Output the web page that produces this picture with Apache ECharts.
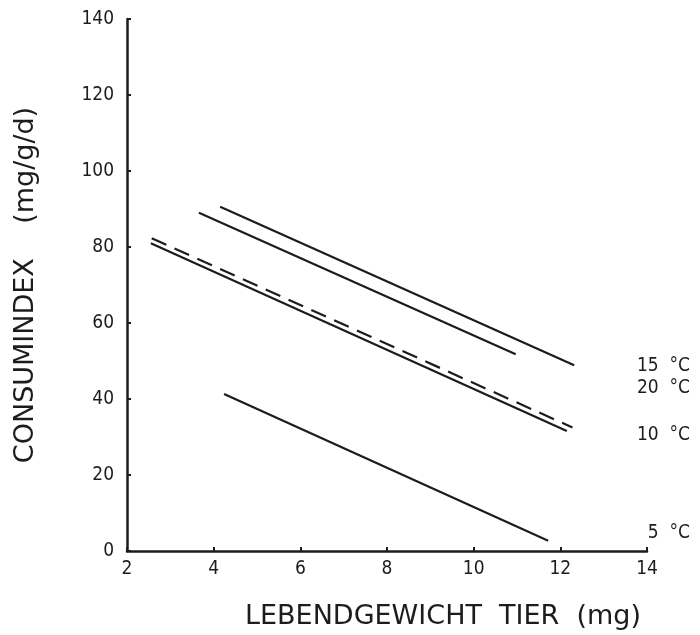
<!DOCTYPE html>
<html>
<head>
<meta charset="utf-8">
<script src="https://cdn.jsdelivr.net/npm/echarts@6/dist/echarts.min.js"></script>
<style>
  html, body { margin: 0; padding: 0; background: #fff; }
  #chart { width: 700px; height: 635px; }
</style>
</head>
<body>
<div id="chart"></div>
<script>
// Regression lines of consumption index vs. live weight, one per temperature
// Each line: [x, y] endpoints (live weight in mg, consumption in mg/g/d)
const line15 = [[4.15, 90.6], [12.32, 48.9]];
const line20 = [[3.66, 89.0], [10.97, 51.8]];
const lineAll = [[2.57, 82.3], [12.28, 32.5]];
const line10 = [[2.55, 81.0], [12.15, 31.6]];
const line5 = [[4.24, 41.3], [11.72, 2.7]];

const xTicks = [2, 4, 6, 8, 10, 12, 14];
const yTicks = [0, 20, 40, 60, 80, 100, 120, 140];

const tempLabels = ['15  °C', '20  °C', '10  °C', '5  °C'];
// vertical centre of each temperature label, in data units
const tempLabelY = [48.7, 42.9, 30.5, 4.7];

const NUM_FONT = '"DejaVu Sans Condensed", "Liberation Sans Narrow", "DejaVu Sans", sans-serif';
const TITLE_FONT = '"DejaVu Sans", sans-serif';
const INK = '#1c1c1c';

const chart = echarts.init(document.getElementById('chart'));

function solid(name, data) {
  return {
    name, type: 'line', data, symbol: 'none', silent: true,
    lineStyle: { color: INK, width: 2.2 }
  };
}

chart.setOption({
  animation: false,
  backgroundColor: '#fff',
  grid: { left: 127, right: 53, top: 19, bottom: 84, outerBoundsMode: 'none', containLabel: false },
  xAxis: {
    type: 'value', min: xTicks[0], max: xTicks[xTicks.length - 1], interval: 2,
    splitLine: { show: false },
    axisLine: { lineStyle: { color: INK, width: 2.5 } },
    axisTick: { inside: true, length: 4, lineStyle: { color: INK, width: 2 } },
    axisLabel: { color: INK, fontFamily: NUM_FONT, fontSize: 19, margin: 9 },
    name: 'LEBENDGEWICHT  TIER  (mg)',
    nameLocation: 'middle', nameGap: 52,
    nameTextStyle: { color: INK, fontFamily: TITLE_FONT, fontSize: 27, padding: [0, 0, 0, 112] }
  },
  yAxis: {
    type: 'value', min: yTicks[0], max: yTicks[yTicks.length - 1], interval: 20,
    splitLine: { show: false },
    axisLine: { lineStyle: { color: INK, width: 2.5 } },
    axisTick: { inside: true, length: 4, lineStyle: { color: INK, width: 2 } },
    axisLabel: { color: INK, fontFamily: NUM_FONT, fontSize: 19, margin: 13 },
    name: 'CONSUMINDEX    (mg/g/d)',
    nameLocation: 'middle', nameGap: 88, nameRotate: 90,
    nameTextStyle: { color: INK, fontFamily: TITLE_FONT, fontSize: 27 }
  },
  series: [
    solid('15 °C', line15),
    solid('20 °C', line20),
    {
      name: 'gesamt', type: 'line', data: lineAll, symbol: 'none', silent: true,
      lineStyle: { color: INK, width: 2.2, type: [16, 9] }
    },
    solid('10 °C', line10),
    solid('5 °C', line5)
  ]
});

// temperature labels at the right margin
const rightEdge = 690;
chart.setOption({
  graphic: tempLabels.map((t, i) => {
    const py = chart.convertToPixel({ gridIndex: 0 }, [14, tempLabelY[i]])[1];
    return {
      type: 'text', x: rightEdge, y: py,
      style: { text: t, fill: INK, font: '19px ' + NUM_FONT, align: 'right', verticalAlign: 'middle' }
    };
  })
});
</script>
</body>
</html>
